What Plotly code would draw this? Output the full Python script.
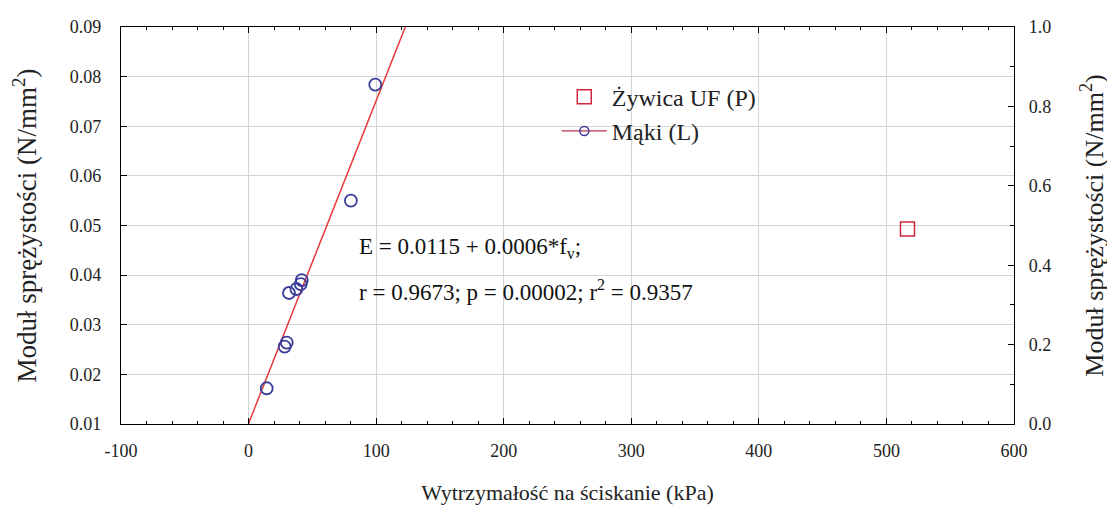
import numpy as np
import plotly.graph_objects as go

# Data
maki_x = [99.3, 80.2, 41.7, 40.9, 37.5, 31.7, 29.9, 28.3, 14.2]
maki_y = [0.0784, 0.0550, 0.0390, 0.0382, 0.0372, 0.0364, 0.0264, 0.0256, 0.0172]
uf_x = [516.5]
uf_y = [0.491]

x_ticks = [-100, 0, 100, 200, 300, 400, 500, 600]
x_ticklabels = ["-100", "0", "100", "200", "300", "400", "500", "600"]
eq_text = "E = 0.0115 + 0.0006*f<sub>v</sub>;"
stat_text = "r = 0.9673; p = 0.00002; r<sup>2</sup> = 0.9357"

slope, intercept = np.polyfit(maki_x, maki_y, 1)
line_x = np.array([-100, 600])
line_y = intercept + slope * line_x

FONT = "Liberation Serif"
fig = go.Figure()

fig.add_trace(go.Scatter(
    x=uf_x, y=uf_y, mode="markers", name="Żywica UF (P)", yaxis="y2",
    marker=dict(symbol="square-open", size=14, color="#d0243c", line=dict(width=1.5)),
))
fig.add_trace(go.Scatter(
    x=line_x, y=line_y, mode="lines", showlegend=False,
    line=dict(color="#e8383c", width=1.5),
))
fig.add_trace(go.Scatter(
    x=maki_x, y=maki_y, mode="markers", name="Mąki (L)",
    marker=dict(symbol="circle-open", size=12, color="#3a3c9a", line=dict(width=1.8)),
    showlegend=False,
))
fig.add_trace(go.Scatter(
    x=[None], y=[None], mode="markers+lines", name="Mąki (L)",
    line=dict(color="#c0304a", width=1.2),
    marker=dict(symbol="circle-open", size=9, color="#3a3c9a", line=dict(width=1.5)),
))

fig.add_annotation(x=85, y=0.0455, xref="x", yref="y", xanchor="left", yanchor="middle",
                   text=eq_text, showarrow=False, font=dict(family=FONT, size=23, color="#111"))
fig.add_annotation(x=85, y=0.0370, xref="x", yref="y", xanchor="left", yanchor="middle",
                   text=stat_text, showarrow=False, font=dict(family=FONT, size=23, color="#111"))

axis_common = dict(showline=True, linecolor="black", linewidth=1.2, ticks="inside",
                   ticklen=6, tickcolor="black", tickfont=dict(family=FONT, size=18, color="#222"),
                   zeroline=False)

fig.update_layout(
    width=1115, height=512,
    paper_bgcolor="white", plot_bgcolor="white",
    margin=dict(l=113, r=109, t=19, b=96, autoexpand=False),
    font=dict(family=FONT, size=18, color="#222"),
    xaxis=dict(range=[-100, 600], tickvals=x_ticks, ticktext=x_ticklabels, mirror="ticks", showgrid=True,
               gridcolor="#d4d4d4", gridwidth=1, ticklabelstandoff=10,
               minor=dict(dtick=20, ticks="inside", ticklen=3, tickcolor="black", showgrid=False),
               title=dict(text="Wytrzymałość na ściskanie (kPa)", font=dict(family=FONT, size=22), standoff=24),
               **axis_common),
    yaxis=dict(range=[0.01, 0.09], dtick=0.01, tickformat=".2f", showgrid=True,
               gridcolor="#d4d4d4", gridwidth=1, ticklabelstandoff=15,
               title=dict(text="Moduł sprężystości (N/mm<sup>2</sup>)", font=dict(family=FONT, size=27), standoff=30),
               **axis_common),
    yaxis2=dict(range=[0, 1.0], dtick=0.2, tickformat=".1f", overlaying="y", side="right",
                showgrid=False, ticklabelstandoff=10,
                minor=dict(dtick=0.1, ticks="inside", ticklen=4, tickcolor="black"),
                title=dict(text="Moduł sprężystości (N/mm<sup>2</sup>)", font=dict(family=FONT, size=26), standoff=34),
                **axis_common),
    legend=dict(x=0.488, y=0.88, xanchor="left", yanchor="top", bgcolor="rgba(0,0,0,0)",
                font=dict(family=FONT, size=24, color="#222"), tracegroupgap=0, itemwidth=45),
)

fig.write_html("out.html")
